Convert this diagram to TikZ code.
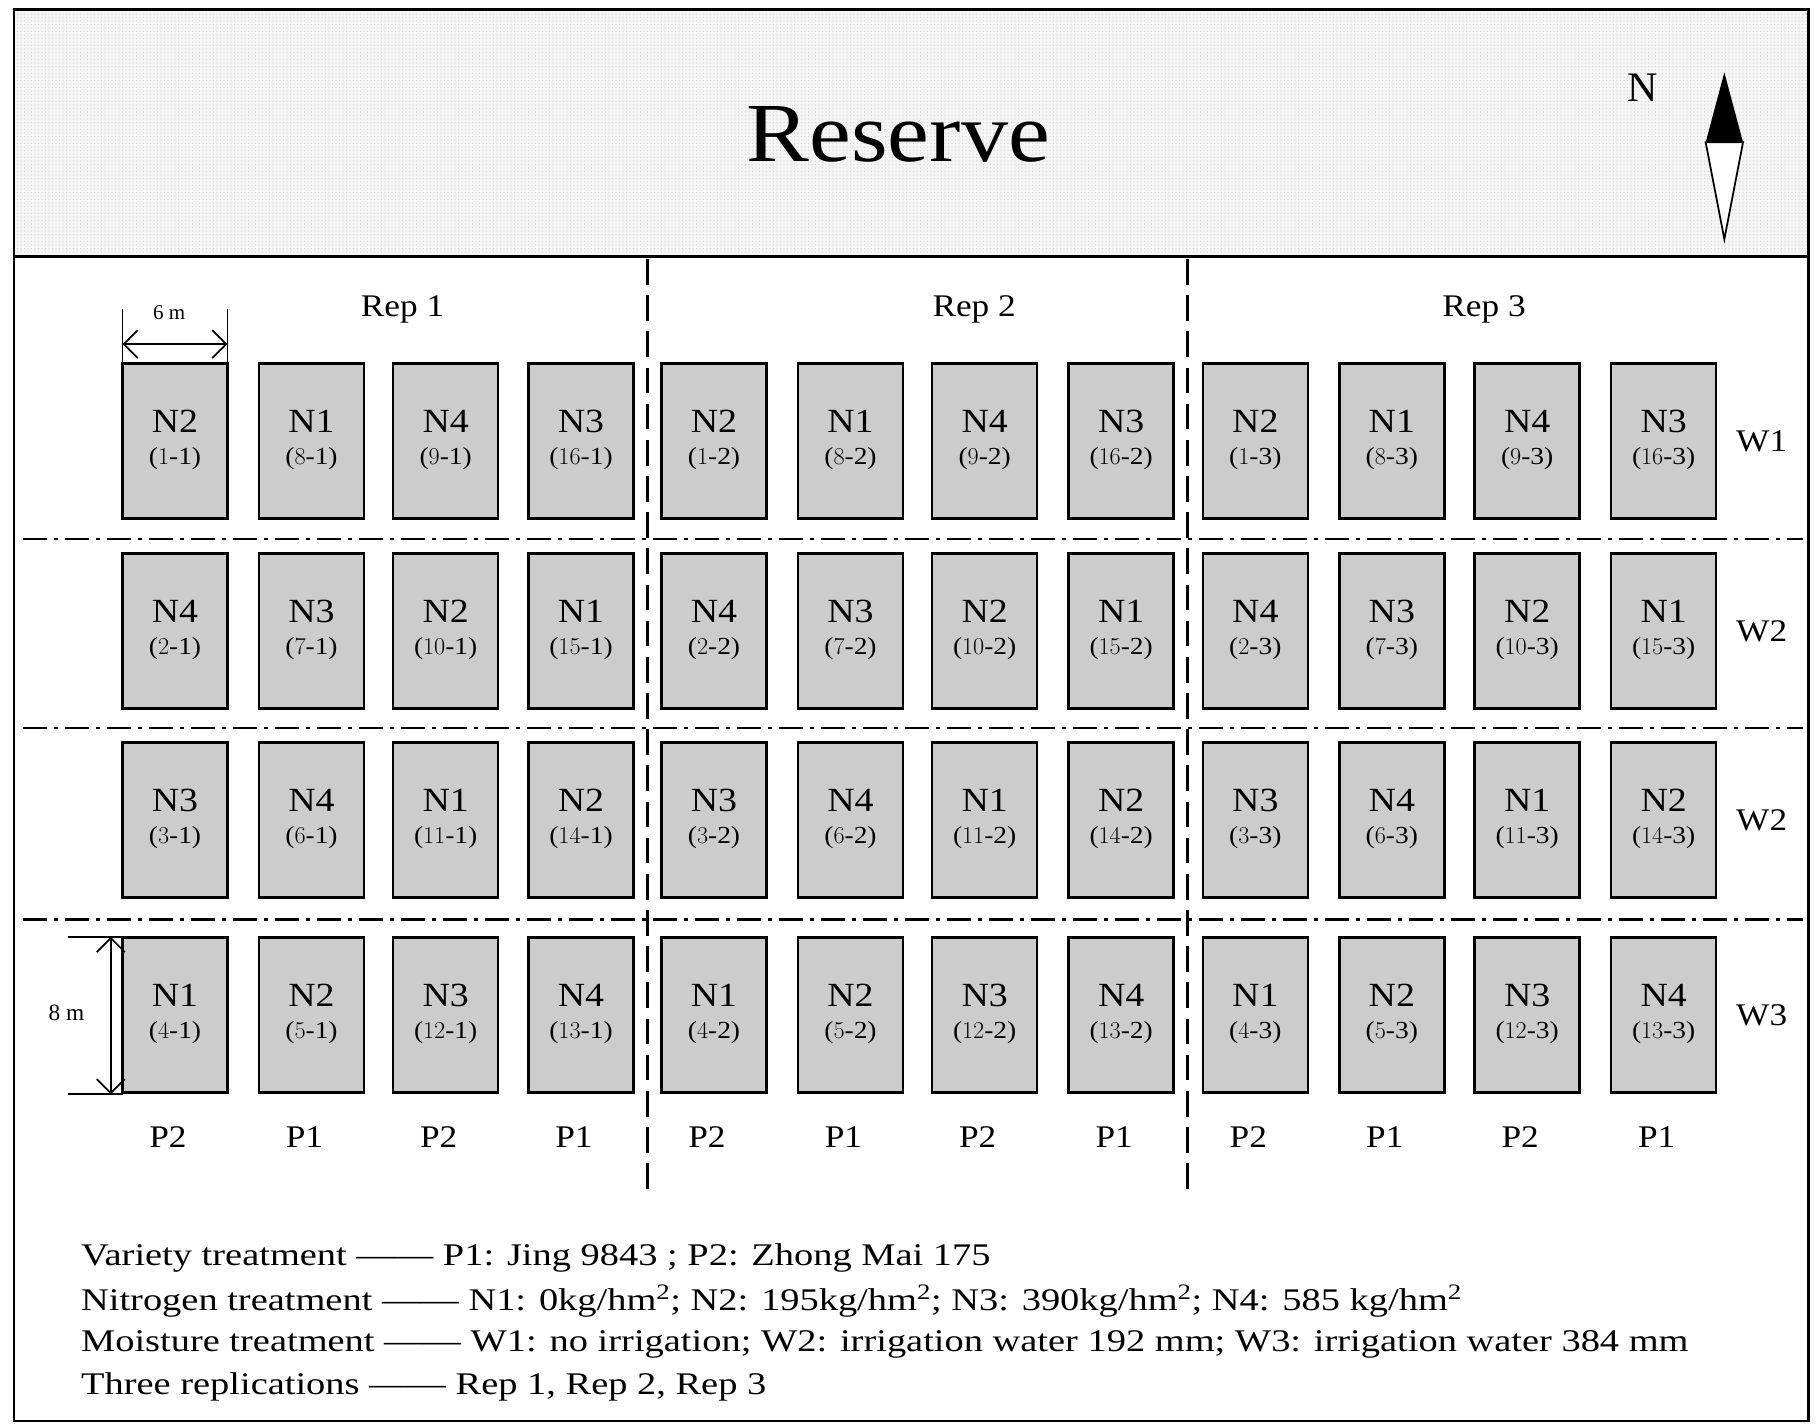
\documentclass[tikz,border=0pt]{standalone}
\usepackage{fontspec}
\setmainfont{Liberation Serif}
\newfontfamily\legfont{Liberation Serif}[FakeStretch=1.22]
\newfontfamily\widefont{Liberation Serif}[FakeStretch=1.12]
\usetikzlibrary{patterns,arrows.meta}
\begin{document}
\begin{tikzpicture}[x=1pt,y=-1pt,
  plot/.style={draw=black,line width=2.2pt,fill=gray!40,minimum width=90pt,minimum height=133pt,inner sep=0pt},
  nlab/.style={font=\widefont\fontsize{29}{29}\selectfont},
  clab/.style={font=\widefont\fontsize{21}{21}\selectfont},
  lab/.style={font=\widefont\fontsize{27}{27}\selectfont},
  leg/.style={font=\legfont\fontsize{27}{27}\selectfont,anchor=west},
  vdash/.style={line width=2.2pt,dash pattern=on 22pt off 9pt},
  hdash/.style={line width=2.2pt,dash pattern=on 20pt off 6pt on 4pt off 6pt}]
\useasboundingbox (0,0) rectangle (1560,1221);
\fill[white] (0,0) rectangle (1560,1221);
% reserve
\fill[gray!8] (12,8) rectangle (1550,220);
\fill[pattern=dots,pattern color=gray!35] (12,8) rectangle (1550,220);
\draw[line width=2.5pt] (12,8) rectangle (1550,1218);
\draw[line width=2.5pt] (12,220) -- (1550,220);
\node[font=\widefont\fontsize{72}{72}\selectfont] (res) at (770,115) {Reserve};
\node[font=\fontsize{36}{36}\selectfont] (north) at (1408,75) {N};
\coordinate (nt) at (1478,62); \coordinate (nb) at (1478,205);
\fill[black] (nt) -- (1494,122) -- (1462,122) -- cycle;
\draw[line width=1.5pt,fill=white] (1462,122) -- (1494,122) -- (nb) -- cycle;
% dividers
\draw[vdash] (555,222) -- (555,1025);
\draw[vdash] (1018,222) -- (1018,1025);
\foreach \y in {462,624,788} \draw[hdash] (20,\y) -- (1545,\y);
% reps
\node[lab] (r1) at (345,265) {Rep 1};
\node[lab] (r2) at (835,265) {Rep 2};
\node[lab] (r3) at (1272,265) {Rep 3};
% plots
\def\xs{{150,267,382,498,612,729,844,961,1076,1193,1309,1426}}
\def\ys{{378,541,703,870}}
\foreach \r/\nlist/\clist in {0/{2,1,4,3}/{1,8,9,16},1/{4,3,2,1}/{2,7,10,15},2/{3,4,1,2}/{3,6,11,14},3/{1,2,3,4}/{4,5,12,13}}{
  \foreach \rep in {1,2,3}{
    \foreach \n [count=\c from 0] in \nlist {
      \pgfmathsetmacro\xx{\xs[(\rep-1)*4+\c]}
      \pgfmathsetmacro\yy{\ys[\r]}
      \pgfmathsetmacro\cc{{\clist}[\c]}
      \node[plot] (p\r-\rep-\c) at (\xx,\yy) {};
      \node[nlab] at ([yshift=17pt]p\r-\rep-\c.center) {N\n};
      \node[clab] at ([yshift=-15pt]p\r-\rep-\c.center) {(\pgfmathprintnumber{\cc}-\rep)};
    }
  }
}
% W labels
\node[lab] (w1) at (1510,378) {W1};
\node[lab] (w2a) at (1510,541) {W2};
\node[lab] (w2b) at (1510,703) {W2};
\node[lab] (w3) at (1510,870) {W3};
% P labels
\foreach \i [count=\k from 0] in {2,1,2,1,2,1,2,1,2,1,2,1}{
  \pgfmathsetmacro\xx{\xs[\k]}
  \node[lab] at (\xx-6,975) {P\i};
}
% 6 m
\coordinate (a1) at (105,265); \coordinate (a2) at (105,312);
\coordinate (b1) at (195,265); \coordinate (b2) at (195,312);
\draw[line width=1.5pt] (a1) -- (a2) (b1) -- (b2);
\draw[line width=1.5pt,{Straight Barb[length=12pt]}-{Straight Barb[length=12pt]}] (105,295) -- (195,295);
\node[font=\fontsize{18}{18}\selectfont] (six) at (145,268) {6 m};
% 8 m
\draw[line width=1.5pt] (58,803) -- (105,803) (58,938) -- (105,938);
\draw[line width=1.5pt,{Straight Barb[length=12pt]}-{Straight Barb[length=12pt]}] (95,803) -- (95,938);
\node[font=\fontsize{20}{20}\selectfont] (eight) at (57,868) {8 m};
% legend
\node[leg] at (66,1078) {Variety treatment —— P1: Jing 9843 ; P2: Zhong Mai 175};
\node[leg] at (66,1115) {Nitrogen treatment —— N1: 0kg/hm\textsuperscript{2}; N2: 195kg/hm\textsuperscript{2}; N3: 390kg/hm\textsuperscript{2}; N4: 585 kg/hm\textsuperscript{2}};
\node[leg] at (66,1152) {Moisture treatment —— W1: no irrigation; W2: irrigation water 192 mm; W3: irrigation water 384 mm};
\node[leg] at (66,1189) {Three replications —— Rep 1, Rep 2, Rep 3};
\end{tikzpicture}
\end{document}
